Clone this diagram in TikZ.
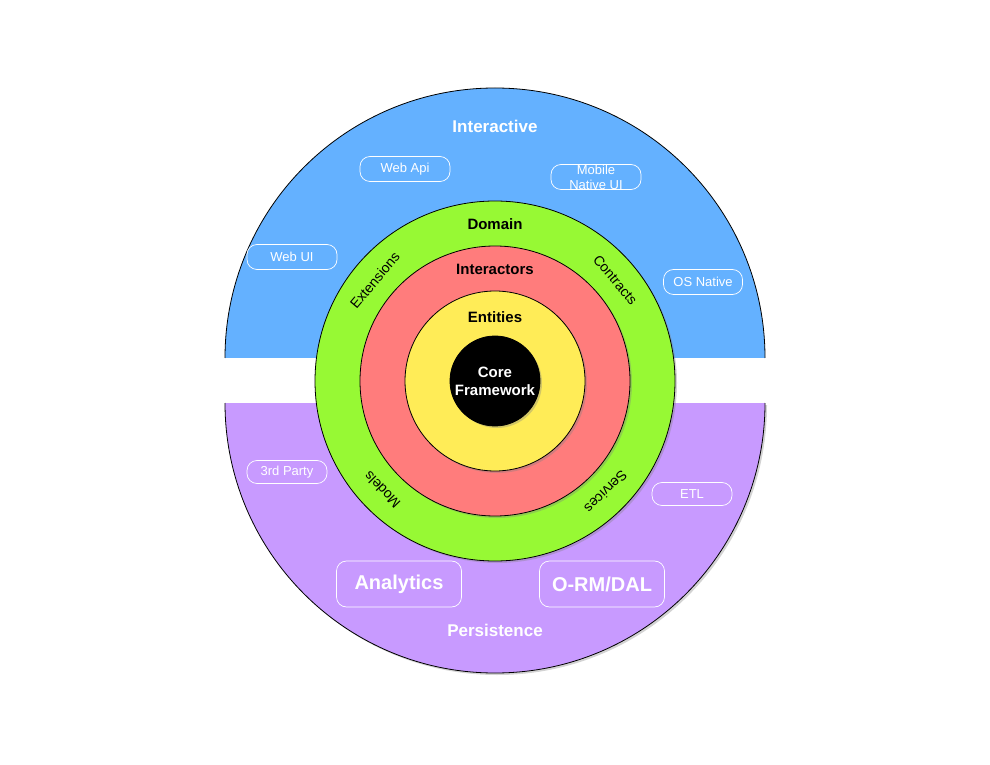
\documentclass[tikz,border=0pt]{standalone}
\usepackage{fontspec}
\setmainfont{Liberation Sans}
\usetikzlibrary{shadows}

\definecolor{interblue}{RGB}{100,177,255}
\definecolor{persistpurple}{RGB}{200,154,255}
\definecolor{domaingreen}{RGB}{151,249,52}
\definecolor{interred}{RGB}{255,124,124}
\definecolor{entyellow}{RGB}{255,236,87}

\begin{document}
\begin{tikzpicture}[x=1pt,y=1pt,
        softshadow/.style={drop shadow={shadow xshift=2pt, shadow yshift=-2pt, opacity=0.35}},
        ring/.style={draw=black, line width=0.8pt, softshadow},
        pill/.style={draw=white, line width=0.7pt, rounded corners=10pt, text=white,
            font=\fontsize{13}{15}\selectfont, minimum width=90pt, minimum height=25pt, inner sep=0pt},
        bigpill/.style={pill, font=\fontsize{20}{24}\selectfont\bfseries, minimum width=125pt, minimum height=46pt},
        layer/.style={font=\fontsize{15}{18}\selectfont\bfseries, align=center},
        side/.style={font=\fontsize{17}{20}\selectfont\bfseries, text=white},
        ringtext/.style={font=\fontsize{14}{16}\selectfont}]
    \useasboundingbox (0,0) rectangle (990,764);

    % outer halves
    \fill[interblue] (225,406) arc[start angle=180, end angle=0, radius=270] -- cycle;
    \draw[line width=0.8pt] (225,406) arc[start angle=180, end angle=0, radius=270];
    \fill[persistpurple, softshadow] (225,361) arc[start angle=180, end angle=360, radius=270] -- cycle;
    \draw[line width=0.8pt] (225,361) arc[start angle=180, end angle=360, radius=270];

    \node[side] (interactive) at (495,638) {Interactive};
    \node[side] (persistence) at (495,134) {Persistence};

    \node[pill] (webapi) at (405,595) {Web Api};
    \node[pill] (webui) at (292,507) {Web UI};
    \node[pill] (mobile) at (596,587) {};
    \node[pill, draw=none, align=center, font=\fontsize{13}{15}\selectfont] (mobiletext) at (mobile) {Mobile\\Native UI};
    \node[pill, minimum width=79pt] (osnative) at (703,482) {OS Native};
    \node[pill, minimum width=80pt, minimum height=23pt] (thirdparty) at (287,292) {3rd Party};
    \node[pill, minimum width=80pt, minimum height=23pt] (etl) at (692,270) {ETL};
    \node[bigpill] (analytics) at (399,180) {Analytics};
    \node[bigpill] (orm) at (602,180) {O-RM/DAL};

    % rings
    \coordinate (c) at (495,383);
    \foreach \r/\col in {180/domaingreen, 135/interred, 90/entyellow, 45/black}
        \filldraw[ring, fill=\col] (c) circle[radius=\r];

    \node[layer] (domain) at (495,540) {Domain};
    \node[layer] (interactors) at (495,495) {Interactors};
    \node[layer] (entities) at (495,447) {Entities};
    \node[layer, text=white] (core) at (c) {Core\\Framework};

    \foreach \ang/\txt/\nm in {140/Extensions/ext, 40/Contracts/con, 224/Models/mod, 315/Services/ser}
        \path (c) ++(\ang:157) node[ringtext, rotate=\ang-90] (\nm) {\txt};
\end{tikzpicture}
\end{document}
